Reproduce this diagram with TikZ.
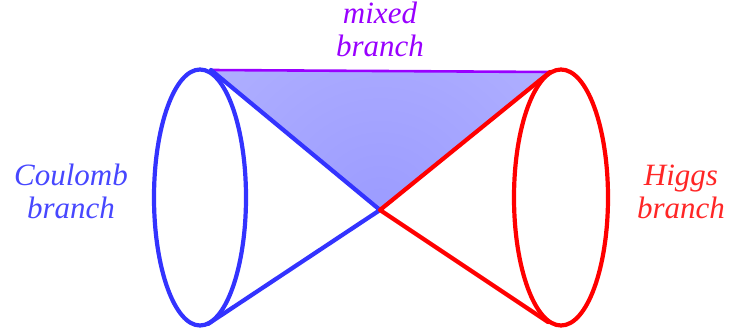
\documentclass[tikz,border=0pt]{standalone}
\usepackage{fontspec}
\newfontfamily\lblfont{Liberation Serif Italic}
\definecolor{cblue}{RGB}{51,51,255}
\definecolor{cred}{RGB}{255,0,0}
\definecolor{cpurple}{RGB}{153,0,255}
\tikzset{
  branchline/.style={line width=4.2pt, line cap=round, line join=round},
  lbl/.style={inner sep=0pt, align=center, font=\lblfont\fontsize{31}{33}\selectfont},
}
\begin{document}
\begin{tikzpicture}[x=1pt,y=-1pt]
\useasboundingbox (0,0) rectangle (730,332);
% key points
\coordinate (O) at (380,210);
\coordinate (BT) at (211,70);
\coordinate (BB) at (208,324);
\coordinate (RT) at (550,72);
\coordinate (RB) at (548,322);
% shaded triangle
\begin{scope}
  \clip (BT) -- (RT) -- (O) -- cycle;
  \shade[inner color=blue!39, outer color=blue!23] (O) circle (460);
\end{scope}
% ellipses
\draw[branchline, cblue] (200,197.5) ellipse [x radius=46, y radius=128];
\draw[branchline, cred] (561,197.5) ellipse [x radius=47, y radius=128];
% lines
\draw[branchline, cpurple, line width=2.6pt] (BT) -- (RT);
\draw[branchline, cblue] (BT) -- (O) -- (BB);
\draw[branchline, cred] (RT) -- (O) -- (RB);
% labels
\node[lbl, text=cpurple] (mixed) at (380,29) {mixed\\branch};
\node[lbl, text=cblue!90] (coulomb) at (71,191) {Coulomb\\branch};
\node[lbl, text=cred!85] (higgs) at (681,192) {Higgs\\branch};
\end{tikzpicture}
\end{document}
